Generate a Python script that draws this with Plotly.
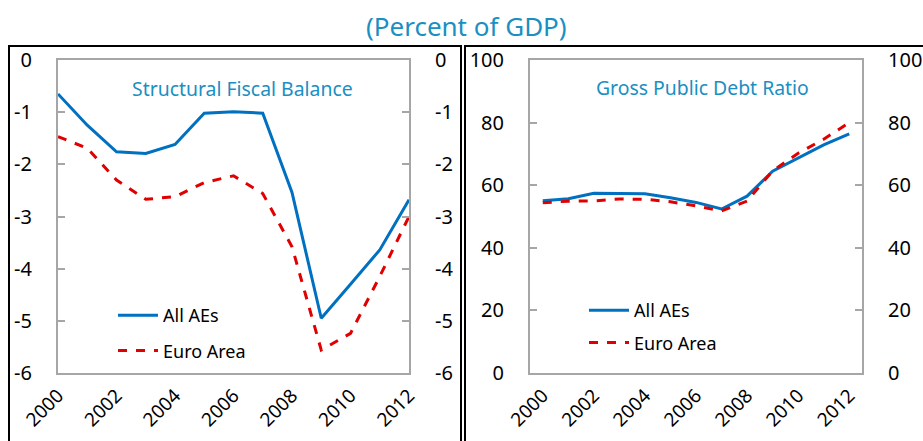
import plotly.graph_objects as go

# --- datos ---
anios = list(range(2000, 2013))
ticks_anios = [2000, 2002, 2004, 2006, 2008, 2010, 2012]

balance_all_aes = [-0.65, -1.25, -1.76, -1.79, -1.62, -1.02, -0.99, -1.02,
                   -2.54, -4.95, -4.30, -3.64, -2.68]
balance_euro = [-1.47, -1.69, -2.30, -2.67, -2.62, -2.35, -2.22, -2.56,
                -3.58, -5.56, -5.24, -4.15, -3.00]

deuda_all_aes = [55.0, 55.7, 57.4, 57.4, 57.3, 56.0, 54.5, 52.4,
                 56.5, 64.5, 68.8, 72.9, 76.4]
deuda_euro = [54.4, 54.9, 55.0, 55.6, 55.5, 54.7, 53.4, 51.8,
              54.9, 64.6, 70.2, 74.7, 80.0]

ticks_balance = [0, -1, -2, -3, -4, -5, -6]
etiquetas_balance = ["0", "-1", "-2", "-3", "-4", "-5", "-6"]
ticks_deuda = [0, 20, 40, 60, 80, 100]

AZUL = "#0070C0"
ROJO = "#E00000"
TEAL = "#1A8FC2"
GRIS = "#A6A6A6"
FUENTE = "Noto Sans"

W, H = 923, 441


def px_x(p):
    return p / W


def px_y(p):
    return 1 - p / H


fig = go.Figure()

# panel izquierdo
fig.add_trace(go.Scatter(x=anios, y=balance_all_aes, name="All AEs", mode="lines",
                         line=dict(color=AZUL, width=3), xaxis="x", yaxis="y",
                         legend="legend", legendgroup="a"))
fig.add_trace(go.Scatter(x=anios, y=balance_euro, name="Euro Area", mode="lines",
                         line=dict(color=ROJO, width=3, dash="dash"), xaxis="x", yaxis="y",
                         legend="legend", legendgroup="b"))
# copia invisible para que se dibuje el eje derecho
fig.add_trace(go.Scatter(x=anios, y=balance_all_aes, mode="lines", showlegend=False,
                         line=dict(color="rgba(0,0,0,0)", width=0), hoverinfo="skip",
                         xaxis="x", yaxis="y2"))

# panel derecho
fig.add_trace(go.Scatter(x=anios, y=deuda_all_aes, name="All AEs", mode="lines",
                         line=dict(color=AZUL, width=3), xaxis="x2", yaxis="y3",
                         legend="legend2", legendgroup="c"))
fig.add_trace(go.Scatter(x=anios, y=deuda_euro, name="Euro Area", mode="lines",
                         line=dict(color=ROJO, width=3, dash="dash"), xaxis="x2", yaxis="y3",
                         legend="legend2", legendgroup="d"))
fig.add_trace(go.Scatter(x=anios, y=deuda_all_aes, mode="lines", showlegend=False,
                         line=dict(color="rgba(0,0,0,0)", width=0), hoverinfo="skip",
                         xaxis="x2", yaxis="y4"))

dom_y = [px_y(373), px_y(60)]

eje_x = dict(tickvals=ticks_anios, tickangle=-45,
             tickfont=dict(family=FUENTE, size=19, color="black"),
             showline=True, linecolor=GRIS, linewidth=2, mirror=True,
             showgrid=False, zeroline=False, ticks="", ticklabelstandoff=2,
             automargin=False)
eje_y = dict(tickfont=dict(family=FUENTE, size=20, color="black"),
             showgrid=False, zeroline=False,
             ticks="inside", ticklen=7, tickcolor=GRIS, tickwidth=2,
             showline=True, linecolor=GRIS, linewidth=2, ticklabelstandoff=20,
             automargin=False)

fig.update_layout(
    width=W, height=H,
    margin=dict(l=0, r=0, t=0, b=0, autoexpand=False),
    paper_bgcolor="white", plot_bgcolor="white",
    font=dict(family=FUENTE),
    xaxis=dict(eje_x, domain=[px_x(58), px_x(409)], range=[2000, 2012], anchor="y"),
    yaxis=dict(eje_y, domain=dom_y, range=[-6, 0], tickvals=ticks_balance,
               ticktext=etiquetas_balance, anchor="x"),
    yaxis2=dict(eje_y, domain=dom_y, range=[-6, 0], tickvals=ticks_balance,
                ticktext=etiquetas_balance, overlaying="y", side="right", anchor="x"),
    xaxis2=dict(eje_x, domain=[px_x(530), px_x(862)], range=[1999.5, 2012.5], anchor="y3"),
    yaxis3=dict(eje_y, domain=dom_y, range=[0, 100], tickvals=ticks_deuda, anchor="x2"),
    yaxis4=dict(eje_y, domain=dom_y, range=[0, 100], tickvals=ticks_deuda,
                overlaying="y3", side="right", anchor="x2"),
    legend=dict(x=px_x(113), y=px_y(297), xanchor="left", yanchor="top",
                bgcolor="rgba(0,0,0,0)", font=dict(family=FUENTE, size=18, color="black"),
                traceorder="grouped", tracegroupgap=9, itemwidth=40),
    legend2=dict(x=px_x(584), y=px_y(292), xanchor="left", yanchor="top",
                 bgcolor="rgba(0,0,0,0)", font=dict(family=FUENTE, size=18, color="black"),
                 traceorder="grouped", tracegroupgap=6, itemwidth=40),
    showlegend=True,
)

# titulos
fig.add_annotation(text="(Percent of GDP)", x=px_x(466), y=px_y(26), xref="paper", yref="paper",
                   xanchor="center", yanchor="middle", showarrow=False,
                   font=dict(family=FUENTE, size=26, color=TEAL))
fig.add_annotation(text="Structural Fiscal Balance", x=px_x(242), y=px_y(88),
                   xref="paper", yref="paper", xanchor="center", yanchor="middle",
                   showarrow=False, font=dict(family=FUENTE, size=19.4, color=TEAL))
fig.add_annotation(text="Gross Public Debt Ratio", x=px_x(702), y=px_y(87),
                   xref="paper", yref="paper", xanchor="center", yanchor="middle",
                   showarrow=False, font=dict(family=FUENTE, size=19.4, color=TEAL))

# marcos negros de cada panel
fig.add_shape(type="rect", xref="paper", yref="paper",
              x0=px_x(9), x1=px_x(461), y0=-0.1, y1=px_y(46),
              line=dict(color="black", width=2))
fig.add_shape(type="rect", xref="paper", yref="paper",
              x0=px_x(465), x1=1.1, y0=-0.1, y1=px_y(46),
              line=dict(color="black", width=2))

# sin margen en el body para que la figura ocupe toda la ventana
fig.write_html("out.html", config={"displayModeBar": False},
               post_script="document.body.style.margin='0';")
